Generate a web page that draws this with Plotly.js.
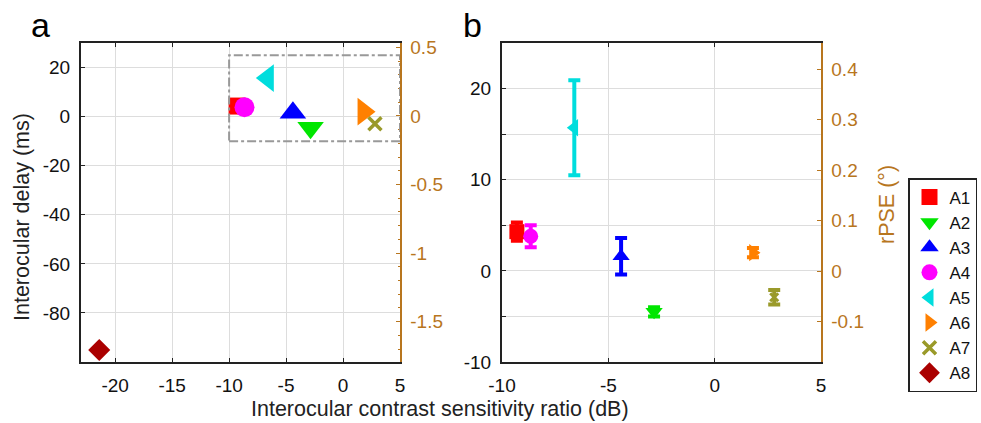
<!DOCTYPE html>
<html>
<head>
<meta charset="utf-8">
<script src="https://cdn.plot.ly/plotly-3.0.1.min.js"></script>
<style>html,body{margin:0;padding:0;background:#fff;}#chart{width:981px;height:423px;}</style>
</head>
<body>
<div id="chart"></div>
<script>
// ---- data ----
const names = ['A1','A2','A3','A4','A5','A6','A7','A8'];
const contrastRatioDb = [-9.3, -2.85, -4.4, -8.65, -6.6, 1.8, 2.8, -21.4];
const delayMs = [4.3, -4.5, 1.6, 3.8, 15.7, 2.0, -2.9, -95.1];
const delayErrMs = [1.0, 0.5, 2.0, 1.2, 5.2, 0.5, 0.8, 0.5];
const colors = ['#ff0000','#00e600','#0000ff','#ff00ff','#00dddd','#ff8000','#9a9a2a','#aa0000'];
const symbols = ['square','triangle-down','triangle-up','circle','triangle-left','triangle-right','x-thin-open','diamond'];
const sizesA = [17,23,23,20,24,24,13,17];

// tick labels
const xTicksA = [-20,-15,-10,-5,0,5];
const xTickTextA = ['-20','-15','-10','-5','0','5'];
const yTicksA = [-80,-60,-40,-20,0,20];
const yTickTextA = ['-80','-60','-40','-20','0','20'];
const rTicksA = [-1.5,-1,-0.5,0,0.5];
const rTickTextA = ['-1.5','-1','-0.5','0','0.5'];
const xTicksB = [-10,-5,0,5];
const xTickTextB = ['-10','-5','0','5'];
const yTicksB = [-10,-5,0,5,10,15,20,25];
const yTickTextB = ['-10','','0','','10','','20',''];
const rTicksB = [-0.1,0,0.1,0.2,0.3,0.4];
const rTickTextB = ['-0.1','0','0.1','0.2','0.3','0.4'];

const brown = '#b8761e';
const font = 'Liberation Sans, Arial, sans-serif';

const traces = [];
names.forEach((n,i)=>{
  traces.push({
    type:'scatter', mode:'markers', name:n, x:[contrastRatioDb[i]], y:[delayMs[i]],
    xaxis:'x', yaxis:'y', showlegend:true, hoverinfo:'skip',
    marker:{color:colors[i], symbol:symbols[i], size:sizesA[i],
      line:{color:colors[i], width: symbols[i]==='x-thin-open'?3.5:0}}
  });
});
names.forEach((n,i)=>{
  const isX = symbols[i]==='x-thin-open';
  traces.push({
    type:'scatter', mode:'markers', name:n, x:[contrastRatioDb[i]], y:[delayMs[i]],
    xaxis:'x2', yaxis:'y2', showlegend:false, hoverinfo:'skip',
    error_y:{type:'data', array:[delayErrMs[i]], visible:true, color:colors[i], thickness:4, width:6},
    marker:{color:colors[i], symbol:symbols[i], size:isX?8:15, line:{color:colors[i], width:isX?3:0}}
  });
});
// empty traces so the right-hand (rPSE) axes are drawn
traces.push({type:'scatter', mode:'markers', x:[], y:[], xaxis:'x', yaxis:'y3', showlegend:false, hoverinfo:'skip'});
traces.push({type:'scatter', mode:'markers', x:[], y:[], xaxis:'x2', yaxis:'y4', showlegend:false, hoverinfo:'skip'});

const axBase = {
  showline:true, linecolor:'#222', linewidth:2, ticks:'inside', ticklen:4, tickcolor:'#222',
  gridcolor:'#dddddd', gridwidth:1, zeroline:false, tickmode:'array', layer:'above traces',
  tickfont:{family:font, size:19, color:'#111'}, ticklabelstandoff:5
};

const layout = {
  width:981, height:423, margin:{l:0,r:0,t:0,b:0},
  paper_bgcolor:'#fff', plot_bgcolor:'#fff', showlegend:true,
  xaxis: Object.assign({}, axBase, {domain:[81/981, 400/981], range:[-23,5], tickvals:xTicksA, ticktext:xTickTextA, mirror:'ticks', anchor:'y'}),
  yaxis: Object.assign({}, axBase, {domain:[61/423, 380/423], range:[-100,30], tickvals:yTicksA, ticktext:yTickTextA, anchor:'x'}),
  yaxis3: Object.assign({}, axBase, {overlaying:'y', side:'right', anchor:'x', range:[-1.794,0.532], tickvals:rTicksA, ticktext:rTickTextA,
    showgrid:false, linecolor:brown, linewidth:1.5, tickcolor:brown, tickfont:{family:font, size:19, color:brown},
    minor:{ticks:'inside', ticklen:2, tickcolor:brown, dtick:0.1, showgrid:false}}),
  xaxis2: Object.assign({}, axBase, {domain:[502/981, 821/981], range:[-10,5], tickvals:xTicksB, ticktext:xTickTextB, mirror:'ticks', anchor:'y2'}),
  yaxis2: Object.assign({}, axBase, {domain:[61/423, 380/423], range:[-10,25], tickvals:yTicksB, ticktext:yTickTextB, anchor:'x2'}),
  yaxis4: Object.assign({}, axBase, {overlaying:'y2', side:'right', anchor:'x2', range:[-0.18,0.4515], tickvals:rTicksB, ticktext:rTickTextB,
    showgrid:false, linecolor:brown, linewidth:1.5, tickcolor:brown, tickfont:{family:font, size:19, color:brown}}),
  legend:{x:908/981, y:1-178/423, xanchor:'left', yanchor:'top', bordercolor:'#222', borderwidth:1.5,
    bgcolor:'#fff', font:{family:font, size:17, color:'#111'}, itemwidth:30, tracegroupgap:0},
  shapes:[{type:'rect', xref:'x', yref:'y', x0:-10, x1:5, y0:-10, y1:25,
    line:{color:'#999', width:2, dash:'dashdot'}}],
  annotations:[
    {text:'a', xref:'paper', yref:'paper', x:40/981, y:1-25/423, xanchor:'center', yanchor:'middle', showarrow:false, font:{family:font, size:34, color:'#000'}},
    {text:'b', xref:'paper', yref:'paper', x:472/981, y:1-25/423, xanchor:'center', yanchor:'middle', showarrow:false, font:{family:font, size:34, color:'#000'}},
    {text:'Interocular delay (ms)', xref:'paper', yref:'paper', x:22/981, y:1-217/423, xanchor:'center', yanchor:'middle', textangle:-90, showarrow:false,
      font:{family:font, size:21.5, color:'#222'}},
    {text:'Interocular contrast sensitivity ratio (dB)', xref:'paper', yref:'paper', x:440/981, y:1-409/423, xanchor:'center', yanchor:'middle', showarrow:false,
      font:{family:font, size:21.5, color:'#222'}},
    {text:'rPSE (°)', xref:'paper', yref:'paper', x:887/981, y:1-205/423, xanchor:'center', yanchor:'middle', textangle:-90, showarrow:false,
      font:{family:font, size:21.5, color:brown}}
  ]
};

Plotly.newPlot('chart', traces, layout, {staticPlot:true, displayModeBar:false});
</script>
</body>
</html>
